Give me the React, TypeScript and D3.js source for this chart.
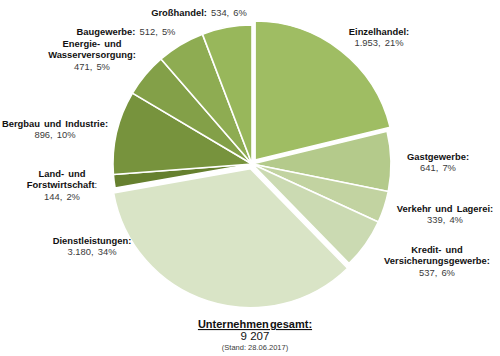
import React from "react";
import * as d3 from "d3";

const categories = [
  "Einzelhandel",
  "Gastgewerbe",
  "Verkehr und Lagerei",
  "Kredit- und Versicherungsgewerbe",
  "Dienstleistungen",
  "Land- und Forstwirtschaft",
  "Bergbau und Industrie",
  "Energie- und Wasserversorgung",
  "Baugewerbe",
  "Großhandel",
];
const values = [1953, 641, 339, 537, 3180, 144, 896, 471, 512, 534];
const valueLabels = ["1.953, 21%", "641, 7%", "339, 4%", "537, 6%", "3.180, 34%", "144, 2%", "896, 10%", "471, 5%", "512, 5%", "534, 6%"];
const colors = ["#9fbd63", "#b4ca8b", "#c2d3a1", "#cbdab2", "#d9e4c6", "#66802f", "#77933d", "#83a048", "#8eac52", "#98b75b"];
const explode = [5, 0, 0, 0, 5, 0, 0, 0, 0, 0];

// label layouts: lines of [bold, normal]
const labelLines: [string, string][][] = [
  [["Einzelhandel:", ""], ["", "1.953, 21%"]],
  [["Gastgewerbe:", ""], ["", "641, 7%"]],
  [["Verkehr und Lagerei:", ""], ["", "339, 4%"]],
  [["Kredit- und", ""], ["Versicherungsgewerbe:", ""], ["", "537, 6%"]],
  [["Dienstleistungen:", ""], ["", "3.180, 34%"]],
  [["Land- und", ""], ["Forstwirtschaft", ":"], ["", "144, 2%"]],
  [["Bergbau und Industrie:", ""], ["", "896, 10%"]],
  [["Energie- und", ""], ["Wasserversorgung:", ""], ["", "471, 5%"]],
  [["Baugewerbe:", " 512, 5%"]],
  [["Großhandel:", " 534, 6%"]],
];
const labelPos: [number, number][] = [
  [379, 35], [438, 160], [445, 212], [437, 253], [92, 244],
  [62, 177], [55, 127], [92, 47], [126, 35], [199, 16],
];

const totalTitle = "Unternehmen gesamt:";
const totalValue = "9 207";
const stand = "(Stand: 28.06.2017)";

export default function App() {
  const cx = 252, cy = 164, r = 139;
  const pie = d3.pie<number>().sort(null).value((d) => d);
  const arcs = pie(values);
  const arc = d3.arc<d3.PieArcDatum<number>>().innerRadius(0).outerRadius(r);
  const font = "Liberation Sans, Arial, sans-serif";
  return (
    <svg width={500} height={356} style={{ position: "absolute", left: 0, top: 0 }} fontFamily={font}>
      <rect width={500} height={356} fill="#fff" />
      <g transform={`translate(${cx},${cy})`}>
        {arcs.map((a, i) => {
          const mid = (a.startAngle + a.endAngle) / 2;
          const dx = Math.sin(mid) * explode[i];
          const dy = -Math.cos(mid) * explode[i];
          return (
            <path key={i} d={arc(a) || ""} fill={colors[i]} stroke="#fff" strokeWidth={1.6}
              strokeLinejoin="round" transform={`translate(${dx},${dy})`} />
          );
        })}
      </g>
      {labelLines.map((lines, i) => (
        <text key={i} x={labelPos[i][0]} y={labelPos[i][1]} textAnchor="middle" fontSize={9.4} wordSpacing={1.5}>
          {lines.map((ln, j) => (
            <tspan key={j} x={labelPos[i][0]} dy={j === 0 ? 0 : 11.3}>
              {ln[0] && <tspan fontWeight="bold" fill="#111">{ln[0]}</tspan>}
              {ln[1] && <tspan fill="#3a3a3a">{ln[1]}</tspan>}
            </tspan>
          ))}
        </text>
      ))}
      <text x={255} y={328} textAnchor="middle" fontSize={11} fontWeight="bold" fill="#111" textDecoration="underline" wordSpacing={-2}>{totalTitle}</text>
      <text x={255} y={340} textAnchor="middle" fontSize={11.5} fill="#111">{totalValue}</text>
      <text x={255} y={350} textAnchor="middle" fontSize={7.5} fill="#3a3a3a">{stand}</text>
    </svg>
  );
}
